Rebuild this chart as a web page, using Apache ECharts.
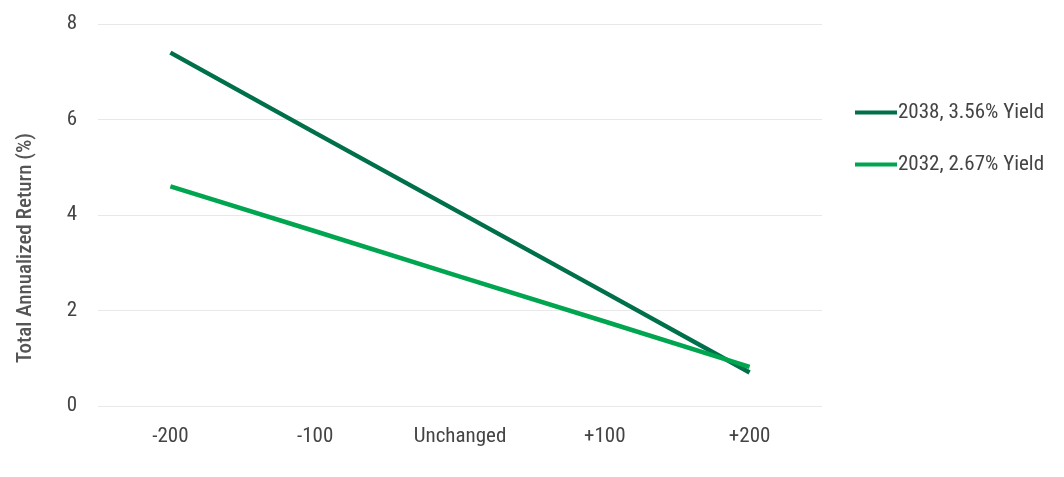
<!DOCTYPE html>
<html><head><meta charset="utf-8">
<script src="https://cdn.jsdelivr.net/npm/echarts@6/dist/echarts.min.js"></script>
<style>html,body{margin:0;padding:0;background:#fff}#c{width:1064px;height:477px}</style>
</head><body><div id="c"></div>
<script>
var categories = ['-200', '-100', 'Unchanged', '+100', '+200'];
var series2038 = [7.4, 5.72, 4.05, 2.38, 0.7];
var series2032 = [4.6, 3.66, 2.71, 1.77, 0.82];
var seriesNames = ['2038, 3.56% Yield', '2032, 2.67% Yield'];
var FONT = '"Roboto Condensed", "Liberation Sans Narrow", Roboto, sans-serif';
var chart = echarts.init(document.getElementById('c'));
chart.setOption({
  animation: false,
  grid: {left: 98, right: 242, top: 24, bottom: 71, containLabel: false},
  legend: {
    orient: 'vertical', left: 850, top: 97, itemWidth: 42, itemHeight: 4, itemGap: 31,
    icon: 'rect',
    textStyle: {fontFamily: FONT, fontSize: 21, color: '#444', padding: [0,0,0,-4]},
    data: seriesNames
  },
  xAxis: {
    type: 'category', data: categories, boundaryGap: true,
    axisLine: {show: false}, axisTick: {show: false},
    axisLabel: {fontFamily: FONT, fontSize: 21, color: '#444', margin: 20}
  },
  yAxis: {
    type: 'value', min: 0, max: 8, interval: 2,
    name: 'Total Annualized Return (%)', nameLocation: 'middle', nameGap: 62,
    nameTextStyle: {fontFamily: FONT, fontSize: 21, color: '#555', fontWeight: 500, padding: [0, 66, 0, 0]},
    axisLine: {show: false}, axisTick: {show: false},
    axisLabel: {fontFamily: FONT, fontSize: 21, color: '#444', margin: 21, align: 'right'},
    splitLine: {lineStyle: {color: '#e8e8e8', width: 1}}
  },
  series: [
    {name: seriesNames[0], type: 'line', data: series2038, symbol: 'none',
     itemStyle: {color: '#00704A'}, lineStyle: {color: '#00704A', width: 4.5}},
    {name: seriesNames[1], type: 'line', data: series2032, symbol: 'none',
     itemStyle: {color: '#00A550'}, lineStyle: {color: '#00A550', width: 4.5}}
  ]
});
</script></body></html>
